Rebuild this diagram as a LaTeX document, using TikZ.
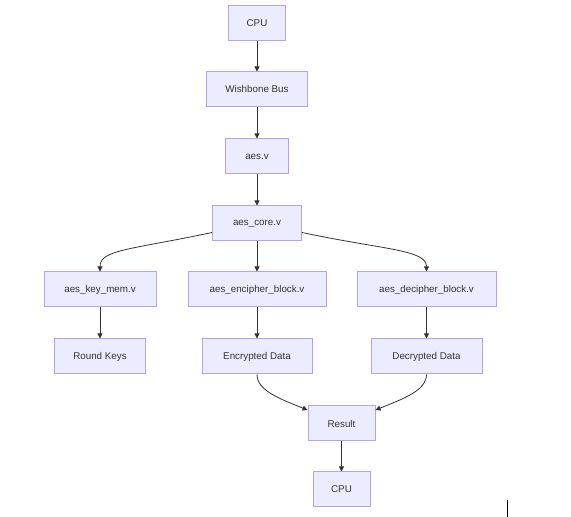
\documentclass[tikz,border=0pt]{standalone}
\usepackage{fontspec}
\setmainfont{Liberation Sans}
\usetikzlibrary{arrows.meta}
\definecolor{boxfill}{HTML}{ECECFF}
\definecolor{boxline}{HTML}{B9A0EC}
\definecolor{ink}{HTML}{333333}
\tikzset{
	modbox/.style = {draw=boxline, fill=boxfill, line width=1pt, text=ink, minimum height=35pt, inner sep=0pt, font=\fontsize{9.8}{11}\selectfont},
	flow/.style = {draw=ink, line width=0.8pt, -{Triangle[length=5pt,width=5pt]}}
}
\begin{document}
\begin{tikzpicture}[x=1pt, y=1pt]
\useasboundingbox (0,0) rectangle (571,517);
% top chain
\node [modbox, minimum width=57] (cputop) at (257,493.5) {CPU};
\node [modbox, minimum width=101] (bus) at (257,427.5) {Wishbone Bus};
\node [modbox, minimum width=63] (aes) at (257,360.5) {aes.v};
\node [modbox, minimum width=89] (core) at (257,293.5) {aes\_core.v};
% sub modules
\node [modbox, minimum width=112] (keymem) at (100,227.5) {aes\_key\_mem.v};
\node [modbox, minimum width=138] (encblock) at (257,227.5) {aes\_encipher\_block.v};
\node [modbox, minimum width=139] (decblock) at (426.5,227.5) {aes\_decipher\_block.v};
% outputs
\node [modbox, minimum width=91] (roundkeys) at (100,160.5) {Round Keys};
\node [modbox, minimum width=110] (encdata) at (257,160.5) {Encrypted Data};
\node [modbox, minimum width=111] (decdata) at (426.5,160.5) {Decrypted Data};
\node [modbox, minimum width=67] (result) at (341.5,93.5) {Result};
\node [modbox, minimum width=57] (cpubottom) at (341.5,27.5) {CPU};

\draw [flow] (cputop) -- (bus);
\draw [flow] (bus) -- (aes);
\draw [flow] (aes) -- (core);
\draw [flow] ([yshift=-9]core.west) to[out=192, in=90, out distance=84, in distance=22] (keymem.north);
\draw [flow] (core) -- (encblock);
\draw [flow] ([yshift=-9]core.east) to[out=-12, in=90, out distance=84, in distance=22] (decblock.north);
\draw [flow] (keymem) -- (roundkeys);
\draw [flow] (encblock) -- (encdata);
\draw [flow] (decblock) -- (decdata);
\draw [flow] (encdata.south) to[out=-90, in=158, out distance=16, in distance=30] ([yshift=13.5]result.west);
\draw [flow] (decdata.south) to[out=-90, in=22, out distance=16, in distance=30] ([yshift=13.5]result.east);
\draw [flow] (result) -- (cpubottom);

\draw [black, line width=1pt] (507.5,0) -- (507.5,17);
\end{tikzpicture}
\end{document}
